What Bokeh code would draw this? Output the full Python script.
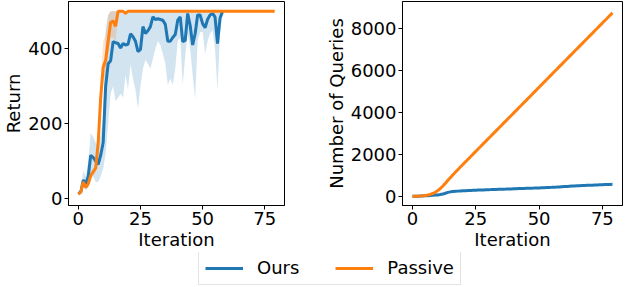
from bokeh.plotting import figure
from bokeh.layouts import column, row
from bokeh.models import Range1d, FixedTicker, Legend, LegendItem
from bokeh.embed import file_html
from bokeh.resources import INLINE

# ---------------- data ----------------
# Left panel: Return vs Iteration
ours_ret = [14, 18, 50, 40, 60, 116, 110, 100, 92, 116, 150, 300, 360, 368, 419, 416, 414, 402, 414, 410,
            412, 440, 432, 420, 392, 398, 459, 441, 448, 459, 485, 478, 480, 478, 476, 465, 420, 420, 430, 438,
            476, 485, 419, 422, 494, 462, 410, 440, 490, 490, 467, 456, 478, 490, 494, 485, 414, 481, 499]
ours_ret_lo = [10, 12, 30, 25, 30, 55, 60, 45, 45, 60, 80, 120, 200, 280, 300, 260, 270, 280, 270, 330,
               293, 357, 320, 290, 240, 300, 347, 371, 360, 347, 373, 400, 420, 410, 387, 360, 304, 320, 304, 347,
               420, 430, 304, 380, 440, 400, 330, 267, 420, 445, 445, 387, 420, 440, 450, 400, 290, 440, 500]
ours_ret_hi = [18, 24, 75, 60, 100, 175, 165, 150, 140, 170, 220, 450, 490, 500, 500, 500, 500, 500, 500, 500,
               500, 500, 500, 500, 500, 500, 500, 500, 500, 500, 500, 500, 500, 500, 500, 500, 500, 500, 500, 500,
               500, 500, 500, 500, 500, 500, 500, 500, 500, 500, 500, 500, 500, 500, 500, 500, 500, 500, 500]
passive_ret = [12, 18, 45, 30, 40, 62, 72, 82, 150, 270, 350, 370, 420, 470, 474, 460, 500, 500, 500, 494] + [500] * 60
passive_ret_lo = [8, 12, 35, 22, 32, 52, 62, 70, 110, 220, 310, 330, 380, 430, 430, 420, 490, 500, 500, 490] + [500] * 60
passive_ret_hi = [16, 24, 55, 38, 48, 72, 82, 95, 190, 320, 420, 440, 490, 500, 500, 500, 500, 500, 500, 500] + [500] * 60

# Right panel: Number of Queries vs Iteration
ours_q = [0, 5, 10, 15, 20, 25, 30, 40, 50, 60, 70, 85, 110, 150, 190, 215, 230, 240, 250, 258,
          265, 270, 276, 282, 288, 293, 298, 303, 308, 313, 318, 322, 327, 331, 336, 340, 344, 348, 353, 357,
          361, 365, 370, 374, 378, 383, 387, 392, 396, 401, 405, 410, 415, 420, 425, 430, 436, 442, 449, 457,
          465, 473, 481, 489, 496, 502, 508, 514, 520, 526, 531, 536, 541, 546, 551, 556, 561, 566, 571, 576]
passive_q = [0, 4, 10, 18, 28, 42, 62, 92, 135, 195, 275, 375, 495, 630, 770, 905, 1035, 1160, 1285, 1410,
             1535, 1655, 1780, 1900, 2025, 2145, 2270, 2390, 2515, 2635, 2760, 2880, 3005, 3125, 3250, 3370, 3495, 3615, 3740, 3860,
             3985, 4105, 4230, 4350, 4475, 4595, 4720, 4840, 4965, 5085, 5210, 5330, 5455, 5575, 5700, 5820, 5945, 6065, 6190, 6310,
             6435, 6555, 6680, 6800, 6925, 7045, 7170, 7290, 7415, 7535, 7660, 7780, 7905, 8025, 8150, 8270, 8395, 8515, 8640, 8760]

x_ticks = [0, 25, 50, 75]
ret_ticks = [0, 200, 400]
q_ticks = [0, 2000, 4000, 6000, 8000]
series_names = ["Ours", "Passive"]

BLUE = "#1f77b4"
ORANGE = "#ff7f0e"
FONT = "DejaVu Sans"
FS = "18px"


def style(p, xlabel, ylabel, xt, yt):
    p.outline_line_color = "black"
    p.outline_line_width = 1
    p.xgrid.visible = False
    p.ygrid.visible = False
    p.xaxis.ticker = FixedTicker(ticks=xt)
    p.yaxis.ticker = FixedTicker(ticks=yt)
    for ax in (p.xaxis[0], p.yaxis[0]):
        ax.major_label_text_font = FONT
        ax.major_label_text_font_size = FS
        ax.major_label_text_color = "black"
        ax.axis_label_text_font = FONT
        ax.axis_label_text_font_size = FS
        ax.axis_label_text_font_style = "normal"
        ax.axis_label_text_color = "black"
        ax.major_tick_in = 0
        ax.major_tick_out = 4
        ax.major_tick_line_color = "black"
        ax.minor_tick_line_color = None
        ax.axis_line_color = "black"
        ax.major_label_standoff = 2
        ax.axis_label_standoff = 1
    p.xaxis.axis_label = xlabel
    p.yaxis.axis_label = ylabel


x_ours = list(range(len(ours_ret)))
x_pass = list(range(len(passive_ret)))
x_q = list(range(len(ours_q)))

p1 = figure(width=322, height=252, output_backend="svg", toolbar_location=None,
            x_range=Range1d(-3.95, 82.95), y_range=Range1d(-18, 526),
            min_border_left=0, min_border_right=38, min_border_top=1, min_border_bottom=0)
style(p1, "Iteration", "Return", x_ticks, ret_ticks)
p1.varea(x=x_ours, y1=ours_ret_lo, y2=ours_ret_hi, fill_color=BLUE, fill_alpha=0.2)
p1.varea(x=x_pass, y1=passive_ret_lo, y2=passive_ret_hi, fill_color=ORANGE, fill_alpha=0.2)
p1.line(x_ours, ours_ret, line_color=BLUE, line_width=3)
p1.line(x_pass, passive_ret, line_color=ORANGE, line_width=3)

p2 = figure(width=302, height=252, output_backend="svg", toolbar_location=None,
            x_range=Range1d(-3.95, 82.95), y_range=Range1d(-436, 9300),
            min_border_left=0, min_border_right=2, min_border_top=1, min_border_bottom=0)
style(p2, "Iteration", "Number of Queries", x_ticks, q_ticks)
p2.line(x_q, ours_q, line_color=BLUE, line_width=3)
p2.line(x_q, passive_q, line_color=ORANGE, line_width=3)

# legend figure
pl = figure(width=624, height=35, output_backend="svg", toolbar_location=None,
            x_range=Range1d(0, 1), y_range=Range1d(0, 1),
            min_border_left=0, min_border_right=0, min_border_top=0, min_border_bottom=0)
pl.axis.visible = False
pl.grid.visible = False
pl.outline_line_color = None
r1 = pl.line([-2, -1], [-2, -2], line_color=BLUE, line_width=3)
r2 = pl.line([-2, -1], [-2, -2], line_color=ORANGE, line_width=3)
leg = Legend(items=[LegendItem(label=series_names[0], renderers=[r1]),
                    LegendItem(label=series_names[1], renderers=[r2])],
             orientation="horizontal", location=(198, 2), margin=0, padding=6,
             spacing=36, label_standoff=14, glyph_width=38, glyph_height=20, label_height=20,
             label_text_font=FONT, label_text_font_size=FS, label_text_color="black",
             border_line_color="#c8c8c8", border_line_width=1, background_fill_alpha=1)
pl.add_layout(leg, "center")

layout = column(row(p1, p2), pl)
open("out.html", "w").write(file_html(layout, INLINE))
